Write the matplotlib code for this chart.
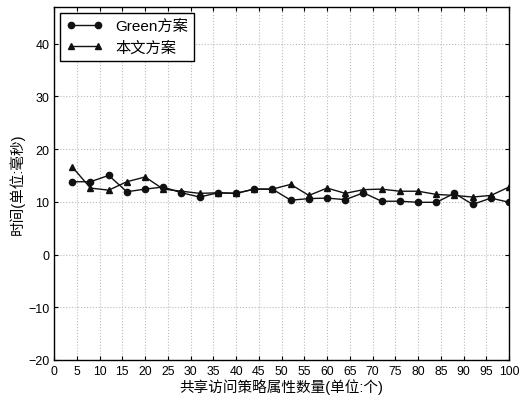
import matplotlib
matplotlib.use('Agg')
import matplotlib.pyplot as plt

plt.rcParams['font.family'] = ['Liberation Sans', 'Noto Sans CJK SC', 'DejaVu Sans']

# 共享访问策略属性数量
x = [4, 8, 12, 16, 20, 24, 28, 32, 36, 40, 44, 48, 52,
     56, 60, 64, 68, 72, 76, 80, 84, 88, 92, 96, 100]
green = [13.8, 13.8, 15.0, 11.9, 12.4, 12.8, 11.7, 10.9, 11.7, 11.6, 12.4, 12.4, 10.3,
         10.6, 10.7, 10.4, 11.7, 10.1, 10.1, 9.9, 9.9, 11.6, 9.5, 10.7, 9.9]
ours = [16.6, 12.6, 12.2, 13.8, 14.7, 12.4, 12.0, 11.6, 11.7, 11.6, 12.4, 12.4, 13.3,
        11.2, 12.6, 11.6, 12.3, 12.4, 12.0, 12.0, 11.4, 11.2, 10.9, 11.2, 12.8]

fig = plt.figure(figsize=(5.2, 4.02), dpi=100)
ax = fig.add_axes([0.104, 0.102, 0.875, 0.879])

ax.plot(x, green, '-o', color='#111111', lw=1.0, ms=4.5, label='Green方案')
ax.plot(x, ours, '-^', color='#111111', lw=1.0, ms=4.5, label='本文方案')

ax.set_xlim(0, 100)
ax.set_ylim(-20, 47)
ax.set_xticks(range(0, 101, 5))
ax.set_yticks(range(-20, 41, 10))
ax.grid(True, linestyle=':', color='#bbbbbb', lw=0.8)
ax.tick_params(direction='in', top=True, right=True, labelsize=9, length=3)
ax.tick_params(axis='x', labelsize=8.8)
for s in ax.spines.values():
    s.set_linewidth(1.0)

ax.set_xlabel('共享访问策略属性数量(单位:个)', fontsize=10.5, labelpad=1)
ax.set_ylabel('时间(单位:毫秒)', fontsize=10.5, labelpad=2)

leg = ax.legend(loc='upper left', fontsize=11, fancybox=False, framealpha=1,
                edgecolor='black', numpoints=2, handlelength=2.4,
                borderaxespad=0.4, labelspacing=0.45, borderpad=0.4)
leg.get_frame().set_linewidth(1.0)

fig.savefig('out.png', dpi=100)
